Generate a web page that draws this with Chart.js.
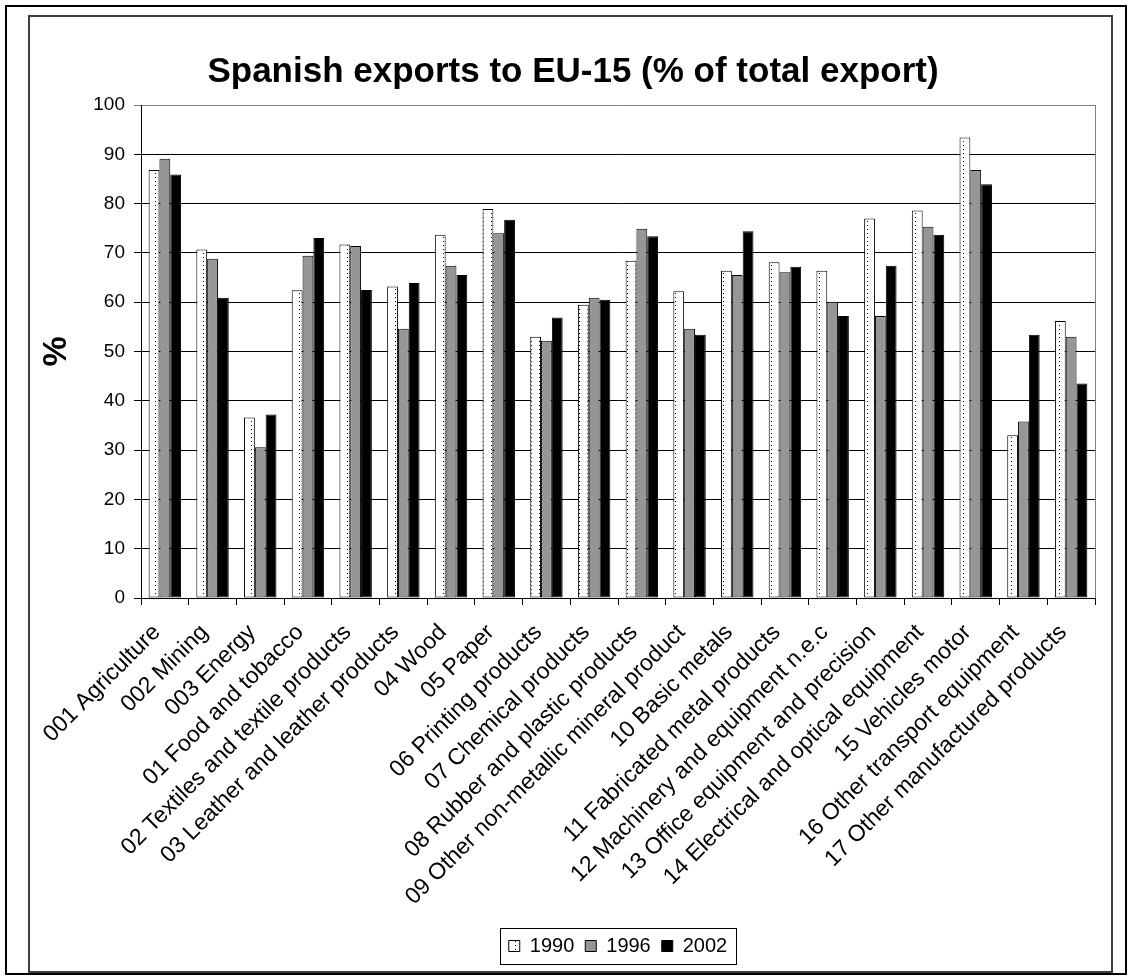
<!DOCTYPE html>
<html>
<head>
<meta charset="utf-8">
<title>Spanish exports to EU-15</title>
<script src="https://cdn.jsdelivr.net/npm/chart.js@4.4.1/dist/chart.umd.min.js"></script>
<style>
  html, body { margin: 0; padding: 0; background: #fff; }
  canvas { display: block; }
</style>
</head>
<body>
<canvas id="chart" width="1129" height="976"></canvas>
<script>
// ─── Data ───────────────────────────────────────────
const sectors = [
  '001 Agriculture', '002 Mining', '003 Energy', '01 Food and tobacco',
  '02 Textiles and textile products', '03 Leather and leather products',
  '04 Wood', '05 Paper', '06 Printing products', '07 Chemical products',
  '08 Rubber and plastic products', '09 Other non-metallic mineral product',
  '10 Basic metals', '11 Fabricated metal products',
  '12 Machinery and equipment n.e.c', '13 Office equipment and precision',
  '14 Electrical and optical equipment', '15 Vehicles motor',
  '16 Other transport equipment', '17 Other manufactured products'
];
const years = ['1990', '1996', '2002'];
const exp1990 = [86.8, 70.7, 36.6, 62.4, 71.7, 63.2, 73.7, 78.9, 53.0, 59.5, 68.4, 62.2, 66.4, 68.1, 66.4, 77.0, 78.6, 93.4, 33.0, 56.2];
const exp1996 = [89.1, 68.8, 30.6, 69.4, 71.4, 54.6, 67.4, 74.0, 52.2, 60.9, 74.9, 54.6, 65.5, 66.1, 60.1, 57.2, 75.3, 86.8, 35.8, 53.0];
const exp2002 = [85.9, 60.9, 37.2, 73.0, 62.5, 63.9, 65.5, 76.7, 56.9, 60.5, 73.4, 53.4, 74.4, 67.2, 57.2, 67.4, 73.7, 83.9, 53.4, 43.5];

const FONT = "'Liberation Sans', Arial, sans-serif";

// dotted fill for the 1990 bars
function dotPattern() {
  const c = document.createElement('canvas');
  c.width = 8; c.height = 4;
  const g = c.getContext('2d');
  g.fillStyle = '#fff';
  g.fillRect(0, 0, 8, 4);
  g.fillStyle = '#000';
  g.fillRect(3, 1, 1, 1);
  return g.createPattern(c, 'repeat');
}
const dots = dotPattern();

// ─── Frames, plot border, legend box ───────────────
const framePlugin = {
  id: 'frame',
  beforeDraw(chart) {
    const ctx = chart.ctx;
    ctx.save();
    ctx.fillStyle = '#fff';
    ctx.fillRect(0, 0, chart.width, chart.height);
    ctx.lineWidth = 2;
    ctx.strokeStyle = '#000';
    ctx.strokeRect(6, 6, 1120, 968);
    ctx.strokeStyle = '#404040';
    ctx.strokeRect(29, 16, 1083, 956);
    ctx.restore();
  },
  afterDraw(chart) {
    const ctx = chart.ctx;
    const a = chart.chartArea;
    ctx.save();
    ctx.strokeStyle = '#808080';
    ctx.lineWidth = 1;
    ctx.beginPath();
    ctx.moveTo(Math.round(a.right) + 0.5, a.top);
    ctx.lineTo(Math.round(a.right) + 0.5, a.bottom);
    ctx.stroke();

    const hb = chart.legend.legendHitBoxes;
    if (hb && hb.length) {
      const x0 = Math.min(...hb.map(b => b.left)) - 9;
      const x1 = Math.max(...hb.map(b => b.left + b.width)) + 9;
      const cy = hb[0].top + hb[0].height / 2;
      ctx.strokeStyle = '#000';
      ctx.strokeRect(Math.round(x0) + 0.5, Math.round(cy - 18) + 0.5, Math.round(x1 - x0), 36);
    }
    ctx.restore();
  }
};

// ─── Chart ──────────────────────────────────────────
new Chart(document.getElementById('chart'), {
  type: 'bar',
  data: {
    labels: sectors,
    datasets: [
      { label: years[0], data: exp1990, backgroundColor: dots, borderColor: '#000', borderWidth: 1, borderSkipped: false },
      { label: years[1], data: exp1996, backgroundColor: '#969696', borderColor: '#000', borderWidth: 1, borderSkipped: false },
      { label: years[2], data: exp2002, backgroundColor: '#000', borderColor: '#000', borderWidth: 1, borderSkipped: false }
    ]
  },
  options: {
    responsive: false,
    animation: false,
    devicePixelRatio: 1,
    categoryPercentage: 0.68,
    barPercentage: 1.0,
    layout: { padding: { top: 51, left: 51, right: 34, bottom: 10 } },
    plugins: {
      title: {
        display: true,
        text: 'Spanish exports to EU-15 (% of total export)',
        color: '#000',
        font: { family: FONT, size: 35, weight: 'bold', lineHeight: 1.2 },
        padding: { top: 0, bottom: 12 }
      },
      legend: {
        display: true,
        position: 'bottom',
        fullSize: false,
        labels: {
          color: '#000',
          font: { family: FONT, size: 20 },
          boxWidth: 11,
          boxHeight: 11,
          padding: 11
        }
      },
      tooltip: { enabled: false }
    },
    scales: {
      x: {
        grid: { offset: true, drawOnChartArea: false, color: '#000', tickLength: 7 },
        border: { color: '#000', width: 1 },
        ticks: {
          color: '#000', font: { family: FONT, size: 23 },
          minRotation: 45, maxRotation: 45, autoSkip: false,
          padding: 14, labelOffset: -8
        },
        afterFit: s => { s.height = 327; }
      },
      y: {
        min: 0, max: 100,
        grid: {
          color: c => (c.tick && c.tick.value === 100) ? '#808080' : '#000',
          tickLength: 7
        },
        border: { color: '#000', width: 1 },
        ticks: { stepSize: 10, color: '#000', font: { family: FONT, size: 19 }, padding: 9 },
        title: {
          display: true,
          text: '%',
          color: '#000',
          font: { family: FONT, size: 34, weight: 'bold', lineHeight: 0.32 },
          padding: 0
        },
        afterFit: s => { s.width = 90; }
      }
    }
  },
  plugins: [framePlugin]
});
</script>
</body>
</html>
